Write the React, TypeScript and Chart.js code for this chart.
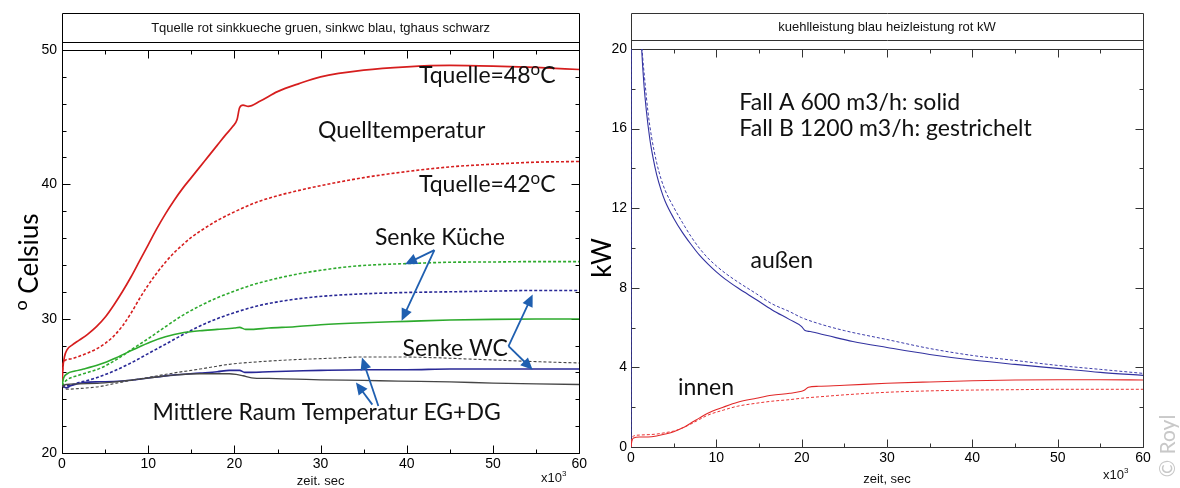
import React, { useEffect, useRef } from "react";
import { Chart, registerables } from "chart.js";
Chart.register(...registerables);

// ---------------- Left chart: temperatures (x in 10^3 s, y in °C) ----------------
const tqA_x = [0, 0.1, 0.3, 0.6, 1.2, 2, 3, 4, 5, 6, 7, 8, 9, 10, 11, 12, 13, 14, 15, 16, 17, 18, 19, 19.8, 20.3, 20.6, 21, 21.6, 23, 25, 27.5, 30, 35, 40, 45, 50, 55, 60];
const tqA_y = [25, 26.3, 27.2, 27.7, 28.05, 28.4, 28.85, 29.4, 30.1, 31.0, 32.0, 33.1, 34.3, 35.5, 36.7, 37.8, 38.8, 39.7, 40.5, 41.3, 42.1, 42.9, 43.7, 44.3, 44.8, 45.7, 45.9, 45.8, 46.2, 46.9, 47.5, 48.0, 48.5, 48.75, 48.85, 48.8, 48.7, 48.55];
const tqB_x = [0, 0.05, 0.2, 1, 2, 3, 4, 5, 6, 7, 8, 9, 10, 11, 12, 13, 14, 15, 16, 18, 20, 22.5, 25, 27.5, 30, 35, 40, 45, 50, 55, 60];
const tqB_y = [25, 26.0, 26.8, 27.0, 27.2, 27.45, 27.75, 28.15, 28.7, 29.45, 30.4, 31.5, 32.5, 33.4, 34.2, 34.9, 35.5, 36.05, 36.5, 37.3, 37.95, 38.65, 39.15, 39.55, 39.9, 40.5, 40.95, 41.3, 41.5, 41.65, 41.7];
const kA_x = [0, 0.2, 0.6, 1.5, 2.5, 4.4, 6.3, 8.3, 10.2, 12, 14, 16, 18, 20, 20.6, 21.3, 22, 24, 27, 30, 35, 40, 45, 50, 55, 60];
const kA_y = [25, 25.6, 25.9, 26.1, 26.25, 26.6, 27.1, 27.7, 28.25, 28.65, 28.95, 29.1, 29.2, 29.3, 29.35, 29.2, 29.2, 29.3, 29.4, 29.55, 29.7, 29.8, 29.9, 29.95, 29.97, 29.97];
const kB_x = [0, 0.5, 2, 4.4, 6.3, 8.3, 10.2, 12, 14, 16, 18, 20, 22, 24, 26, 28, 30, 33, 36, 40, 45, 50, 55, 60];
const kB_y = [25, 25.4, 25.8, 26.3, 26.95, 27.8, 28.6, 29.4, 30.25, 30.95, 31.55, 32.05, 32.5, 32.85, 33.15, 33.4, 33.6, 33.85, 34.0, 34.1, 34.2, 34.22, 34.25, 34.25];
const wA_x = [0, 0.5, 1, 2.5, 4.4, 6, 8, 10.2, 12.9, 16, 18, 19.4, 20.6, 21.2, 22, 24, 27, 30, 35, 40, 45, 50, 55, 60];
const wA_y = [25, 24.85, 25.0, 25.25, 25.3, 25.32, 25.42, 25.6, 25.8, 25.95, 26.05, 26.15, 26.15, 26.0, 26.0, 26.05, 26.1, 26.15, 26.2, 26.2, 26.25, 26.25, 26.25, 26.25];
const wB_x = [0, 0.5, 2, 4, 6, 8, 10, 12, 14, 16, 18, 20, 23, 26, 29, 32, 35, 40, 45, 50, 55, 60];
const wB_y = [25, 25.0, 25.25, 25.6, 26.1, 26.7, 27.4, 28.1, 28.8, 29.45, 30.0, 30.45, 31.0, 31.35, 31.6, 31.75, 31.85, 31.95, 32.0, 32.05, 32.1, 32.1];
const hA_x = [0, 0.5, 2, 4.4, 7, 10.2, 13, 16, 19.4, 20.2, 21, 22, 24, 27.2, 30, 35, 39, 45, 50, 55, 60];
const hA_y = [25, 25.1, 25.15, 25.2, 25.35, 25.6, 25.8, 25.9, 25.9, 25.85, 25.75, 25.6, 25.55, 25.5, 25.45, 25.4, 25.35, 25.3, 25.2, 25.15, 25.1];
const hB_x = [0, 0.5, 2, 4.4, 6.3, 8, 10.2, 12.9, 16, 19.4, 23, 27, 31, 35, 39, 43, 47, 51, 55, 60];
const hB_y = [25, 24.75, 24.8, 24.95, 25.2, 25.4, 25.65, 25.95, 26.25, 26.6, 26.8, 26.95, 27.05, 27.15, 27.15, 27.1, 27.0, 26.9, 26.8, 26.7];

// ---------------- Right chart: power (x in 10^3 s, y in kW) ----------------
const aA_x = [0, 0.02, 1.0, 1.25, 1.5, 1.8, 2.2, 2.6, 3.0, 3.5, 4, 5, 6, 7, 8, 9, 10, 11, 12.5, 14.7, 16.5, 18.6, 20, 20.4, 21, 23, 26, 30, 35, 40, 45, 50, 55, 60];
const aA_y = [0, 30, 22.5, 20, 18.3, 16.9, 15.5, 14.5, 13.7, 12.95, 12.35, 11.5, 10.8, 10.2, 9.65, 9.2, 8.8, 8.45, 8.0, 7.4, 6.9, 6.4, 6.05, 5.85, 5.8, 5.6, 5.3, 5.0, 4.65, 4.37, 4.15, 3.95, 3.75, 3.6];
const aB_x = [0, 0.02, 1.0, 1.3, 1.6, 2.0, 2.4, 3.0, 3.5, 4, 5, 6, 7, 8, 9, 10, 11, 12.5, 14.7, 16.5, 18.6, 20, 22, 25, 30, 35, 40, 45, 50, 55, 60];
const aB_y = [0, 30, 22.5, 20, 18.5, 16.8, 15.6, 14.3, 13.5, 12.9, 12.05, 11.3, 10.6, 10.0, 9.5, 9.1, 8.75, 8.3, 7.7, 7.2, 6.8, 6.5, 6.2, 5.85, 5.4, 4.95, 4.6, 4.35, 4.1, 3.9, 3.7];
const iA_x = [0, 0.1, 0.3, 1, 2, 3, 4, 5, 6, 6.9, 8, 9, 10.8, 12.5, 14.7, 16.5, 18.6, 20, 20.3, 20.8, 22, 25, 30, 35, 40, 45, 50, 55, 60];
const iA_y = [0, 0.3, 0.45, 0.5, 0.5, 0.55, 0.65, 0.77, 0.95, 1.17, 1.45, 1.7, 2.0, 2.25, 2.45, 2.6, 2.7, 2.8, 2.85, 3.0, 3.05, 3.1, 3.2, 3.27, 3.33, 3.37, 3.38, 3.38, 3.37];
const iB_x = [0, 0.1, 0.3, 1, 2, 3, 4, 5, 6, 7, 8, 9, 10.8, 12.5, 14.7, 16.5, 18.6, 20, 22, 25, 30, 35, 40, 45, 50, 55, 60];
const iB_y = [0, 0.4, 0.55, 0.6, 0.62, 0.65, 0.72, 0.8, 0.95, 1.15, 1.38, 1.6, 1.85, 2.05, 2.2, 2.3, 2.38, 2.45, 2.52, 2.62, 2.75, 2.82, 2.86, 2.88, 2.9, 2.9, 2.9];

// ---------------- Axis ticks ----------------
const xTicks = [0, 10, 20, 30, 40, 50, 60];
const leftYTicks = [20, 30, 40, 50];
const rightYTicks = [0, 4, 8, 12, 16, 20];

// ---------------- Annotations (data coordinates) ----------------
const leftLabels = [
  { text: "Tquelle=48^{o}C", x: 41.4, y: 48.1 },
  { text: "Quelltemperatur", x: 29.7, y: 44.0 },
  { text: "Tquelle=42^{o}C", x: 41.4, y: 40.0 },
  { text: "Senke Küche", x: 36.3, y: 36.0 },
  { text: "Senke WC", x: 39.5, y: 27.8 },
  { text: "Mittlere Raum Temperatur EG+DG", x: 10.5, y: 23.0 },
];
const leftArrows = [
  { from: [43.2, 35.1], to: [39.8, 34.05] },
  { from: [43.2, 35.1], to: [39.4, 29.85] },
  { from: [51.8, 27.95], to: [54.6, 31.8] },
  { from: [51.8, 27.95], to: [54.6, 26.2] },
  { from: [36.7, 23.5], to: [34.8, 27.1] },
  { from: [36.0, 23.6], to: [34.1, 25.25] },
];
const rightLabels = [
  { text: "Fall A 600 m3/h: solid", x: 12.7, y: 17.3 },
  { text: "Fall B 1200 m3/h: gestrichelt", x: 12.7, y: 16.0 },
  { text: "außen", x: 14.0, y: 9.35 },
  { text: "innen", x: 5.5, y: 3.0 },
];

const AXF = "'Liberation Sans', Arial, Helvetica, sans-serif";
const ANF = "Lato, 'Open Sans', sans-serif";

const pts = (xs: number[], ys: number[]) => xs.map((x, i) => ({ x, y: ys[i] }));

function drawRich(ctx: CanvasRenderingContext2D, str: string, x: number, y: number, size: number, family: string, align: "left" | "center" = "left", supScale = 0.62, supRaise = 0.3) {
  const parts: { t: string; sup: boolean }[] = [];
  const re = /\^\{([^}]*)\}/g;
  let last = 0;
  let m: RegExpExecArray | null;
  while ((m = re.exec(str))) {
    if (m.index > last) parts.push({ t: str.slice(last, m.index), sup: false });
    parts.push({ t: m[1], sup: true });
    last = m.index + m[0].length;
  }
  if (last < str.length) parts.push({ t: str.slice(last), sup: false });
  const fontFor = (sup: boolean) => `${sup ? Math.round(size * supScale) : size}px ${family}`;
  let total = 0;
  for (const p of parts) { ctx.font = fontFor(p.sup); total += ctx.measureText(p.t).width; }
  let cx = align === "center" ? x - total / 2 : x;
  ctx.textAlign = "left";
  ctx.textBaseline = "middle";
  for (const p of parts) {
    ctx.font = fontFor(p.sup);
    ctx.fillText(p.t, cx, p.sup ? y - size * supRaise : y);
    cx += ctx.measureText(p.t).width;
  }
}

function drawArrow(ctx: CanvasRenderingContext2D, x1: number, y1: number, x2: number, y2: number, color: string) {
  const ang = Math.atan2(y2 - y1, x2 - x1);
  const head = 12, hw = 5.5;
  ctx.strokeStyle = color;
  ctx.fillStyle = color;
  ctx.lineWidth = 1.8;
  ctx.beginPath();
  ctx.moveTo(x1, y1);
  ctx.lineTo(x2 - Math.cos(ang) * head * 0.8, y2 - Math.sin(ang) * head * 0.8);
  ctx.stroke();
  ctx.beginPath();
  ctx.moveTo(x2, y2);
  ctx.lineTo(x2 - Math.cos(ang) * head - Math.sin(ang) * hw, y2 - Math.sin(ang) * head + Math.cos(ang) * hw);
  ctx.lineTo(x2 - Math.cos(ang) * head + Math.sin(ang) * hw, y2 - Math.sin(ang) * head - Math.cos(ang) * hw);
  ctx.closePath();
  ctx.fill();
}

type Series = { x: number[]; y: number[]; color: string; dashed: boolean; width: number };
type Spec = {
  width: number; plotTop: number; padRight: number; yAxisW: number; xAxisH: number;
  titleTop: number; titleBottom: number; title: string; frameColor: string;
  yMin: number; yMax: number; yTicks: number[]; yMinorStep: number;
  yTitle: string; yTitleX: number; yTitleY: number; yTitleSize: number;
  xTitle: string; xTitleY: number; expX: number; expY: number;
  labels: { text: string; x: number; y: number }[]; labelSize: number;
  arrows: { from: number[]; to: number[] }[];
  series: Series[]; watermark?: boolean; yPad: number;
};

function framePlugin(s: Spec) {
  return {
    id: "frame",
    beforeDatasetsDraw(chart: any) {
      const { ctx, chartArea: ca, scales } = chart;
      const xs = scales.x, ys = scales.y;
      ctx.save();
      ctx.strokeStyle = s.frameColor;
      ctx.lineWidth = 1;
      const L = Math.round(ca.left) + 0.5, R = Math.round(ca.right) + 0.5;
      const T = Math.round(ca.top) + 0.5, B = Math.round(ca.bottom) + 0.5;
      ctx.beginPath();
      ctx.moveTo(L, s.titleTop + 0.5); ctx.lineTo(R, s.titleTop + 0.5);
      ctx.moveTo(L, s.titleBottom + 0.5); ctx.lineTo(R, s.titleBottom + 0.5);
      ctx.moveTo(L, T); ctx.lineTo(R, T);
      ctx.moveTo(L, B); ctx.lineTo(R, B);
      ctx.moveTo(L, s.titleTop + 0.5); ctx.lineTo(L, B);
      ctx.moveTo(R, s.titleTop + 0.5); ctx.lineTo(R, B);
      for (let v = 0; v <= 60; v += 5) {
        const px = Math.round(xs.getPixelForValue(v)) + 0.5;
        const len = v % 10 === 0 ? 8 : 4;
        ctx.moveTo(px, B); ctx.lineTo(px, B - len);
        ctx.moveTo(px, T); ctx.lineTo(px, T + len);
      }
      for (let v = s.yMin; v <= s.yMax + 1e-9; v += s.yMinorStep) {
        const py = Math.round(ys.getPixelForValue(v)) + 0.5;
        const major = s.yTicks.some((t) => Math.abs(t - v) < 1e-9);
        const len = major ? 8 : 4;
        ctx.moveTo(L, py); ctx.lineTo(L + len, py);
        ctx.moveTo(R, py); ctx.lineTo(R - len, py);
      }
      ctx.stroke();
      ctx.fillStyle = "#111";
      ctx.font = `13px ${AXF}`;
      ctx.textAlign = "center";
      ctx.textBaseline = "middle";
      ctx.fillText(s.title, (ca.left + ca.right) / 2, (s.titleTop + s.titleBottom) / 2 + 1);
      ctx.fillText(s.xTitle, (ca.left + ca.right) / 2, s.xTitleY);
      drawRich(ctx, "x10^{3}", s.expX, s.expY, 13, AXF, "left");
      ctx.save();
      ctx.translate(s.yTitleX, s.yTitleY);
      ctx.rotate(-Math.PI / 2);
      ctx.fillStyle = "#000";
      drawRich(ctx, s.yTitle, 0, 0, s.yTitleSize, ANF, "center", 0.7, 0.32);
      ctx.restore();
      if (s.watermark) {
        ctx.save();
        ctx.translate(578, 446);
        ctx.rotate(-Math.PI / 2);
        ctx.fillStyle = "#c8c8c8";
        ctx.font = `21px ${ANF}`;
        ctx.textAlign = "center";
        ctx.textBaseline = "middle";
        ctx.fillText("© Royl", 0, 0);
        ctx.restore();
      }
      ctx.restore();
    },
    afterDatasetsDraw(chart: any) {
      const { ctx, scales } = chart;
      const xs = scales.x, ys = scales.y;
      ctx.save();
      ctx.fillStyle = "#111";
      for (const l of s.labels) {
        drawRich(ctx, l.text, xs.getPixelForValue(l.x), ys.getPixelForValue(l.y), s.labelSize, ANF, "left", 0.72, 0.26);
      }
      for (const a of s.arrows) {
        drawArrow(ctx, xs.getPixelForValue(a.from[0]), ys.getPixelForValue(a.from[1]), xs.getPixelForValue(a.to[0]), ys.getPixelForValue(a.to[1]), "#1f5fb0");
      }
      ctx.restore();
    },
  };
}

function Panel({ spec, left }: { spec: Spec; left: number }) {
  const ref = useRef<HTMLCanvasElement>(null);
  useEffect(() => {
    const s = spec;
    const chart = new Chart(ref.current as HTMLCanvasElement, {
      type: "line",
      data: {
        datasets: s.series.map((sr) => ({
          data: pts(sr.x, sr.y),
          borderColor: sr.color,
          borderWidth: sr.width,
          borderDash: sr.dashed ? [3, 2] : [],
          pointRadius: 0,
          fill: false,
          cubicInterpolationMode: "monotone",
        })),
      } as any,
      options: {
        responsive: false,
        animation: false,
        events: [],
        layout: { padding: { top: s.plotTop, right: s.padRight, left: 0, bottom: 0 } },
        plugins: { legend: { display: false }, tooltip: { enabled: false }, title: { display: false } },
        scales: {
          x: {
            type: "linear", min: 0, max: 60,
            afterBuildTicks: (sc: any) => { sc.ticks = xTicks.map((v) => ({ value: v })); },
            ticks: { font: { family: AXF, size: 14 }, color: "#000", padding: 3, maxRotation: 0, autoSkip: false },
            grid: { display: false, drawTicks: false },
            border: { display: false },
            afterFit: (sc: any) => { sc.height = s.xAxisH; },
          },
          y: {
            type: "linear", min: s.yMin, max: s.yMax,
            afterBuildTicks: (sc: any) => { sc.ticks = s.yTicks.map((v) => ({ value: v })); },
            ticks: { font: { family: AXF, size: 14 }, color: "#000", padding: s.yPad, autoSkip: false },
            grid: { display: false, drawTicks: false },
            border: { display: false },
            afterFit: (sc: any) => { sc.width = s.yAxisW; },
          },
        },
      } as any,
      plugins: [framePlugin(s)],
    });
    return () => chart.destroy();
  }, [spec]);
  return (
    <canvas ref={ref} width={spec.width} height={488}
      style={{ position: "absolute", left, top: 0, width: spec.width, height: 488 }} />
  );
}

const RED = "rgb(214,30,30)", GREEN = "rgb(45,170,45)", NAVY = "rgb(40,40,150)", DARK = "rgb(70,70,70)";

const leftSpec: Spec = {
  width: 590, plotTop: 50, padRight: 10, yAxisW: 62, xAxisH: 35,
  titleTop: 13, titleBottom: 42, frameColor: "#000",
  title: "Tquelle rot sinkkueche gruen, sinkwc blau, tghaus schwarz",
  yMin: 20, yMax: 50, yTicks: leftYTicks, yMinorStep: 2, yPad: 5,
  yTitle: "^{o} Celsius", yTitleX: 30, yTitleY: 262, yTitleSize: 26,
  xTitle: "zeit. sec", xTitleY: 481, expX: 541, expY: 478,
  labels: leftLabels, labelSize: 23, arrows: leftArrows,
  series: [
    { x: hA_x, y: hA_y, color: DARK, dashed: false, width: 1.3 },
    { x: hB_x, y: hB_y, color: DARK, dashed: true, width: 1.1 },
    { x: kA_x, y: kA_y, color: GREEN, dashed: false, width: 1.6 },
    { x: kB_x, y: kB_y, color: GREEN, dashed: true, width: 1.6 },
    { x: wA_x, y: wA_y, color: NAVY, dashed: false, width: 1.6 },
    { x: wB_x, y: wB_y, color: NAVY, dashed: true, width: 1.6 },
    { x: tqB_x, y: tqB_y, color: RED, dashed: true, width: 1.6 },
    { x: tqA_x, y: tqA_y, color: RED, dashed: false, width: 1.7 },
  ],
};

const rightSpec: Spec = {
  width: 590, plotTop: 49, padRight: 37, yAxisW: 41, xAxisH: 41,
  titleTop: 13, titleBottom: 40, frameColor: "#333",
  title: "kuehlleistung blau heizleistung rot kW",
  yMin: 0, yMax: 20, yTicks: rightYTicks, yMinorStep: 2, yPad: 4,
  yTitle: "kW", yTitleX: 13, yTitleY: 258, yTitleSize: 26,
  xTitle: "zeit, sec", xTitleY: 479, expX: 513, expY: 475,
  labels: rightLabels, labelSize: 23, arrows: [],
  series: [
    { x: iB_x, y: iB_y, color: "rgb(235,50,50)", dashed: true, width: 1 },
    { x: iA_x, y: iA_y, color: "rgb(225,40,40)", dashed: false, width: 1.1 },
    { x: aB_x, y: aB_y, color: "rgb(60,60,170)", dashed: true, width: 1 },
    { x: aA_x, y: aA_y, color: "rgb(50,50,160)", dashed: false, width: 1.1 },
  ],
  watermark: true,
};

export default function App() {
  return (
    <div style={{ position: "absolute", left: 0, top: 0, width: 1180, height: 488, background: "#fff" }}>
      <Panel spec={leftSpec} left={0} />
      <Panel spec={rightSpec} left={590} />
    </div>
  );
}
